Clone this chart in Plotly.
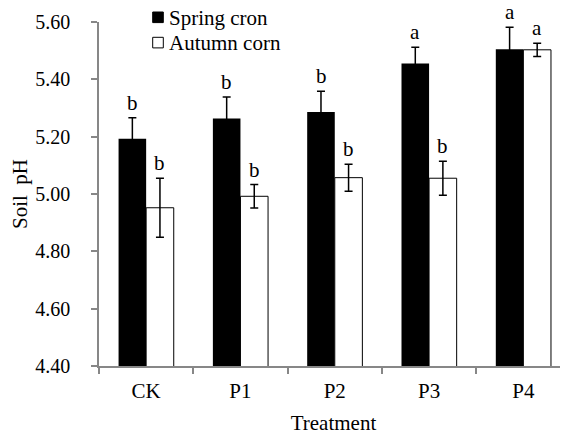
import plotly.graph_objects as go

categories = ["CK", "P1", "P2", "P3", "P4"]
spring = [5.193, 5.263, 5.286, 5.455, 5.505]
spring_err = [0.073, 0.075, 0.072, 0.057, 0.077]
autumn = [4.952, 4.992, 5.057, 5.055, 5.503]
autumn_err = [0.103, 0.041, 0.047, 0.059, 0.023]
spring_letters = ["b", "b", "b", "a", "a"]
autumn_letters = ["b", "b", "b", "b", "a"]
y_ticks = [4.40, 4.60, 4.80, 5.00, 5.20, 5.40, 5.60]

FONT = "Liberation Serif"
AXIS = "#878787"

fig = go.Figure()
fig.add_trace(go.Bar(
    x=categories, y=spring, name="Spring cron",
    marker=dict(color="black", line=dict(color="black", width=0)),
    error_y=dict(type="data", array=spring_err, color="black", thickness=1.5, width=4),
))
fig.add_trace(go.Bar(
    x=categories, y=autumn, name="Autumn corn",
    marker=dict(color="white", line=dict(color="black", width=1)),
    error_y=dict(type="data", array=autumn_err, color="black", thickness=1.5, width=4),
))

bar_off = 0.146
for i, c in enumerate(categories):
    fig.add_annotation(x=i - bar_off, y=spring[i] + spring_err[i], text=spring_letters[i],
                       showarrow=False, yanchor="bottom", yshift=1,
                       font=dict(family=FONT, size=21, color="black"))
    fig.add_annotation(x=i + bar_off, y=autumn[i] + autumn_err[i], text=autumn_letters[i],
                       showarrow=False, yanchor="bottom", yshift=1,
                       font=dict(family=FONT, size=21, color="black"))

# manual legend (page pixel positions converted to paper coords)
W, H = 469.0, 344.0
PX0, PY0 = 99.0, 366.0
def px_x(p):
    return (p - PX0) / W
def px_y(p):
    return (PY0 - p) / H

legend_items = [("Spring cron", "black", 12.0), ("Autumn corn", "white", 37.3)]
for label, col, top in legend_items:
    fig.add_shape(type="rect", xref="paper", yref="paper",
                  x0=px_x(152.7), x1=px_x(163.3), y0=px_y(top + 10.6), y1=px_y(top),
                  fillcolor=col, line=dict(color="black", width=1))
    fig.add_annotation(xref="paper", yref="paper", x=px_x(166.5), y=px_y(top + 5.8),
                       text=label, showarrow=False, xanchor="left", yanchor="middle",
                       font=dict(family=FONT, size=21, color="black"))

# page body has an 8px default margin, so the figure is offset by 8px
fig.update_layout(
    width=560, height=427,
    margin=dict(l=91, r=0, t=14, b=69, autoexpand=False),
    paper_bgcolor="white", plot_bgcolor="white",
    barmode="group", bargap=0.415, bargroupgap=0,
    showlegend=False,
    font=dict(family=FONT, size=21, color="black"),
)
fig.update_xaxes(
    type="category", range=[-0.5, 4.473], automargin=False,
    showline=True, linecolor=AXIS, linewidth=1.5,
    ticks="outside", tickson="boundaries", ticklen=6, tickcolor=AXIS, tickwidth=1.5,
    ticklabelstandoff=5,
    showgrid=False, zeroline=False,
    tickfont=dict(family=FONT, size=21, color="black"),
    title=dict(text="Treatment", font=dict(family=FONT, size=21, color="black"), standoff=14),
)
fig.update_yaxes(
    range=[4.40, 5.60], tickvals=y_ticks, ticktext=[f"{v:.2f}" for v in y_ticks],
    automargin=False,
    showline=True, linecolor=AXIS, linewidth=1.5,
    ticks="outside", ticklen=6, tickcolor=AXIS, tickwidth=1.5,
    ticklabelstandoff=17,
    showgrid=False, zeroline=False,
    tickfont=dict(family=FONT, size=20, color="black"),
    title=dict(text="Soil\u00a0 pH", font=dict(family=FONT, size=21, color="black"), standoff=8),
)

fig.write_html("out.html")
